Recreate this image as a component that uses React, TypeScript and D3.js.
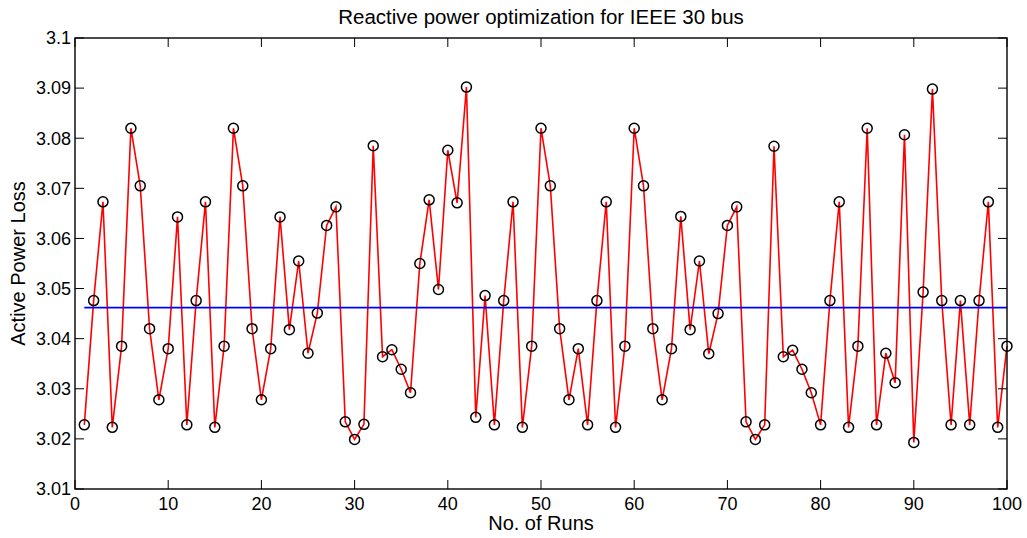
import React from 'react';
import * as d3 from 'd3';

// Active power loss per run
const runs = d3.range(1, 101);
const losses = [
  3.0228, 3.0476, 3.0673, 3.0223, 3.0385, 3.082, 3.0705, 3.042, 3.0278, 3.038,
  3.0643, 3.0228, 3.0476, 3.0673, 3.0223, 3.0385, 3.082, 3.0705, 3.042, 3.0278,
  3.038, 3.0643, 3.0418, 3.0555, 3.0371, 3.0451, 3.0626, 3.0663, 3.0234, 3.0199,
  3.0229, 3.0785, 3.0364, 3.0378, 3.0339, 3.0292, 3.0550, 3.0677, 3.0498, 3.0776,
  3.0671, 3.0902, 3.0243, 3.0486, 3.0228, 3.0476, 3.0673, 3.0223, 3.0385, 3.082,
  3.0705, 3.042, 3.0278, 3.038, 3.0228, 3.0476, 3.0673, 3.0223, 3.0385, 3.082,
  3.0705, 3.042, 3.0278, 3.038, 3.0644, 3.0418, 3.0555, 3.037, 3.045, 3.0626,
  3.0663, 3.0234, 3.0199, 3.0228, 3.0784, 3.0364, 3.0377, 3.0339, 3.0292, 3.0228,
  3.0476, 3.0673, 3.0223, 3.0385, 3.082, 3.0228, 3.0371, 3.0312, 3.0807, 3.0193,
  3.0493, 3.0898, 3.0476, 3.0228, 3.0476, 3.0228, 3.0476, 3.0673, 3.0223, 3.0385,
];
const meanLoss = 3.0462;
const xTicks = [0, 10, 20, 30, 40, 50, 60, 70, 80, 90, 100];
const yTicks = [3.01, 3.02, 3.03, 3.04, 3.05, 3.06, 3.07, 3.08, 3.09, 3.1];

const width = 1027;
const height = 538;
const margin = { top: 38, right: 20, bottom: 49, left: 75 };
const font = '"Liberation Sans", Arial, sans-serif';

export default function App() {
  const innerW = width - margin.left - margin.right;
  const innerH = height - margin.top - margin.bottom;

  const x = d3.scaleLinear().domain([0, 100]).range([0, innerW]);
  const y = d3.scaleLinear().domain([3.01, 3.1]).range([innerH, 0]);

  const line = d3.line<number>()
    .x((d, i) => x(runs[i]))
    .y(d => y(d));

  const tickLen = 9;
  const yFmt = (v: number) => String(+v.toFixed(2));

  return (
    <svg
      width={width}
      height={height}
      style={{ position: 'absolute', left: 0, top: 0, background: '#fff' }}
      fontFamily={font}
    >
      <rect width={width} height={height} fill="#fff" />
      <text x={margin.left + innerW / 2} y={24} textAnchor="middle" fontSize={20.5} fill="#000">
        Reactive power optimization for IEEE 30 bus
      </text>
      <g transform={`translate(${margin.left},${margin.top})`}>
        {/* data line and markers */}
        <path d={line(losses) || ''} fill="none" stroke="#ff0000" strokeWidth={1.6} />
        {losses.map((v, i) => (
          <circle key={i} cx={x(runs[i])} cy={y(v)} r={5} fill="none" stroke="#000" strokeWidth={1.5} />
        ))}
        {/* mean line */}
        <line x1={x(1)} x2={innerW} y1={y(meanLoss)} y2={y(meanLoss)} stroke="#0000ff" strokeWidth={1.6} />

        {/* box */}
        <rect width={innerW} height={innerH} fill="none" stroke="#000" strokeWidth={1.4} />

        {/* x ticks */}
        {xTicks.map(t => (
          <g key={'x' + t}>
            <line x1={x(t)} x2={x(t)} y1={innerH} y2={innerH - tickLen} stroke="#000" strokeWidth={1} />
            <line x1={x(t)} x2={x(t)} y1={0} y2={tickLen} stroke="#000" strokeWidth={1} />
            <text x={x(t)} y={innerH + 21} textAnchor="middle" fontSize={18} fill="#000">{t}</text>
          </g>
        ))}
        {/* y ticks */}
        {yTicks.map(t => (
          <g key={'y' + t}>
            <line x1={0} x2={tickLen} y1={y(t)} y2={y(t)} stroke="#000" strokeWidth={1} />
            <line x1={innerW} x2={innerW - tickLen} y1={y(t)} y2={y(t)} stroke="#000" strokeWidth={1} />
            <text x={-4} y={y(t)} dy="0.35em" textAnchor="end" fontSize={18} fill="#000">{yFmt(t)}</text>
          </g>
        ))}

        <text x={innerW / 2} y={innerH + 41} textAnchor="middle" fontSize={20} fill="#000">No. of Runs</text>
        <text
          transform={`translate(${-50},${innerH / 2}) rotate(-90)`}
          textAnchor="middle"
          fontSize={20}
          fill="#000"
        >
          Active Power Loss
        </text>
      </g>
    </svg>
  );
}
